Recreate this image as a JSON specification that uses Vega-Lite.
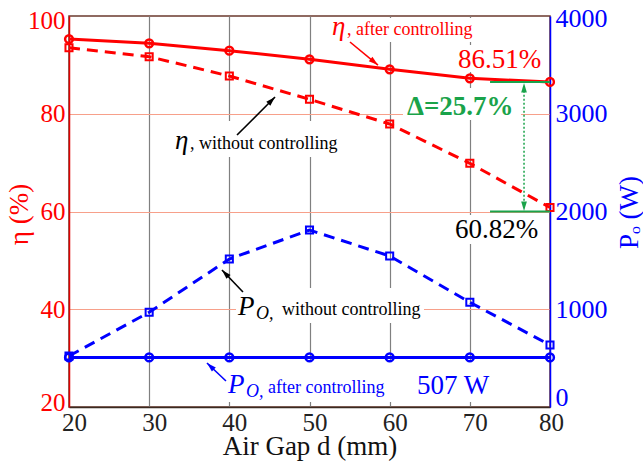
{
  "$schema": "https://vega.github.io/schema/vega-lite/v6.json",
  "width": 481,
  "height": 391,
  "autosize": {"type": "none"},
  "padding": {"left": 69, "top": 16, "right": 93, "bottom": 55},
  "background": "white",
  "config": {
    "view": {"stroke": "#6b3a2e", "strokeWidth": 1.5},
    "font": "'Liberation Serif', 'Times New Roman', serif"
  },
  "datasets": {
    "eta": [
      {"d": 20, "eta": 95.29, "series": "after"},
      {"d": 30, "eta": 94.41, "series": "after"},
      {"d": 40, "eta": 92.9, "series": "after"},
      {"d": 50, "eta": 91.14, "series": "after"},
      {"d": 60, "eta": 89.09, "series": "after"},
      {"d": 70, "eta": 87.25, "series": "after"},
      {"d": 80, "eta": 86.51, "series": "after"},
      {"d": 20, "eta": 93.52, "series": "without"},
      {"d": 30, "eta": 91.68, "series": "without"},
      {"d": 40, "eta": 87.72, "series": "without"},
      {"d": 50, "eta": 82.95, "series": "without"},
      {"d": 60, "eta": 77.9, "series": "without"},
      {"d": 70, "eta": 69.86, "series": "without"},
      {"d": 80, "eta": 60.82, "series": "without"}
    ],
    "po": [
      {"d": 20, "po": 507, "series": "after"},
      {"d": 30, "po": 507, "series": "after"},
      {"d": 40, "po": 507, "series": "after"},
      {"d": 50, "po": 507, "series": "after"},
      {"d": 60, "po": 507, "series": "after"},
      {"d": 70, "po": 507, "series": "after"},
      {"d": 80, "po": 507, "series": "after"},
      {"d": 20, "po": 522, "series": "without"},
      {"d": 30, "po": 969, "series": "without"},
      {"d": 40, "po": 1514, "series": "without"},
      {"d": 50, "po": 1810, "series": "without"},
      {"d": 60, "po": 1545, "series": "without"},
      {"d": 70, "po": 1071, "series": "without"},
      {"d": 80, "po": 634, "series": "without"}
    ],
    "boxes": [
      {"d": 52.56, "d2": 71.02, "eta": 99.59, "eta2": 94.68},
      {"d": 68.15, "d2": 79.5, "eta": 94.07, "eta2": 88.54},
      {"d": 61.66, "d2": 76.38, "eta": 85.27, "eta2": 78.72},
      {"d": 67.78, "d2": 79.5, "eta": 59.28, "eta2": 53.35},
      {"d": 32.6, "d2": 54.43, "eta": 78.52, "eta2": 71.15},
      {"d": 40.83, "d2": 64.28, "eta": 44.35, "eta2": 37.19},
      {"d": 39.08, "d2": 73.14, "eta": 29.21, "eta2": 21.02}
    ],
    "arrows": [
      {"d": 55.05, "eta": 94.68, "d2": 58.54, "eta2": 89.97, "kind": "eta", "dir": 129.4},
      {"d": 40.96, "eta": 75.65, "d2": 45.7, "eta2": 83.43, "kind": "note", "dir": 45},
      {"d": 41.7, "eta": 43.53, "d2": 39.08, "eta2": 48.03, "kind": "note", "dir": 316.3},
      {"d": 39.58, "eta": 25.32, "d2": 37.21, "eta2": 29.0, "kind": "po", "dir": 313.5}
    ],
    "gap": [
      {"d": 72.52, "d2": 80, "eta": 86.51},
      {"d": 72.52, "d2": 80, "eta": 60.0}
    ],
    "gapline": [
      {"d": 76.76, "eta": 85.5, "eta2": 61.0}
    ],
    "gapheads": [
      {"d": 76.76, "eta": 86.3, "dir": 0},
      {"d": 76.76, "eta": 60.1, "dir": 180}
    ],
    "notes": [
      {"role": "sym", "text": "η", "kind": "eta", "d": 52.81, "eta": 96.11},
      {"role": "label", "text": ", after controlling", "kind": "eta", "d": 54.68, "eta": 96.11},
      {"role": "sym", "text": "η", "kind": "note", "d": 33.22, "eta": 72.79},
      {"role": "label", "text": ", without controlling", "kind": "note", "d": 35.09, "eta": 72.79},
      {"role": "sym", "text": "P", "kind": "note", "d": 41.08, "eta": 38.82},
      {"role": "sub", "text": "O,", "kind": "note", "d": 43.33, "eta": 38.0},
      {"role": "label", "text": "without controlling", "kind": "note", "d": 46.57, "eta": 38.82},
      {"role": "sym", "text": "P", "kind": "po", "d": 39.83, "eta": 22.86},
      {"role": "sub", "text": "O,", "kind": "po", "d": 42.08, "eta": 22.05},
      {"role": "label", "text": "after controlling", "kind": "po", "d": 44.82, "eta": 22.86},
      {"role": "value", "text": "86.51%", "kind": "eta", "d": 68.52, "eta": 89.36},
      {"role": "value", "text": "60.82%", "kind": "note", "d": 68.15, "eta": 54.58},
      {"role": "value", "text": "507 W", "kind": "po", "d": 63.41, "eta": 22.66},
      {"role": "delta", "text": "Δ=25.7%", "kind": "delta", "d": 62.16, "eta": 79.74}
    ]
  },
  "encoding": {
    "x": {
      "field": "d",
      "type": "quantitative",
      "scale": {"domain": [20, 80], "nice": false, "zero": false},
      "axis": {
        "values": [20, 30, 40, 50, 60, 70, 80],
        "title": "Air Gap d (mm)",
        "titleFont": "'Liberation Serif', 'Times New Roman', serif",
        "titleFontSize": 27,
        "titleFontWeight": "normal",
        "titleColor": "#111111",
        "titleY": 47,
        "titleBaseline": "alphabetic",
        "labelFont": "'Liberation Serif', 'Times New Roman', serif",
        "labelFontSize": 25,
        "labelColor": "#222222",
        "labelPadding": 3,
        "labelBaseline": "top",
        "labelFlush": false,
        "labelOverlap": false,
        "labelOffset": {"condition": {"test": "datum.value === 80", "value": 1}, "value": 5},
        "ticks": false,
        "grid": true,
        "gridColor": {"condition": {"test": "datum.value === 20 || datum.value === 80", "value": "rgba(0,0,0,0)"}, "value": "#808080"},
        "gridWidth": 1.2,
        "domainColor": "#3a2a20",
        "domainWidth": 1.5
      }
    }
  },
  "layer": [
    {
      "encoding": {
        "y": {
          "field": "eta",
          "type": "quantitative",
          "scale": {"domain": [20, 100], "nice": false, "zero": false},
          "axis": {
            "orient": "left",
            "values": [20, 40, 60, 80, 100],
            "title": "η (%)",
            "titleFont": "'Liberation Serif', 'Times New Roman', serif",
            "titleFontSize": 27,
            "titleFontWeight": "normal",
            "titleColor": "#ff0000",
            "titleX": -42,
            "titleY": 198,
            "titleAngle": -90,
            "titleAlign": "center",
            "titleBaseline": "alphabetic",
            "labelFont": "'Liberation Serif', 'Times New Roman', serif",
            "labelFontSize": 25,
            "labelColor": "#ff0000",
            "labelPadding": 4,
            "labelFlush": false,
            "labelOverlap": false,
            "labelOffset": {"condition": [{"test": "datum.value === 20", "value": -5}, {"test": "datum.value === 100", "value": 4}], "value": 0},
            "ticks": false,
            "grid": true,
            "gridColor": {"condition": {"test": "datum.value === 20 || datum.value === 100", "value": "rgba(0,0,0,0)"}, "value": "#f7a08a"},
            "gridWidth": 1,
            "domainColor": "#e00000",
            "domainWidth": 1.5
          }
        }
      },
      "layer": [
        {
          "data": {"name": "boxes"},
          "mark": {"type": "rect", "color": "white"},
          "encoding": {"x2": {"field": "d2"}, "y2": {"field": "eta2"}}
        },
        {
          "data": {"name": "eta"},
          "transform": [{"filter": "datum.series === 'after'"}],
          "mark": {"type": "line", "color": "#ff0000", "strokeWidth": 3}
        },
        {
          "data": {"name": "eta"},
          "transform": [{"filter": "datum.series === 'without'"}],
          "mark": {"type": "line", "color": "#ff0000", "strokeWidth": 3, "strokeDash": [11, 7]}
        },
        {
          "data": {"name": "eta"},
          "transform": [{"filter": "datum.series === 'after'"}],
          "mark": {"type": "point", "shape": "circle", "filled": false, "size": 60, "strokeWidth": 2.5, "color": "#ff0000", "opacity": 1}
        },
        {
          "data": {"name": "eta"},
          "transform": [{"filter": "datum.series === 'without'"}],
          "mark": {"type": "point", "shape": "square", "filled": false, "size": 50, "strokeWidth": 2, "color": "#ff0000", "opacity": 1}
        },
        {
          "data": {"name": "gap"},
          "mark": {"type": "rule", "color": "#1aa34a", "strokeWidth": 2},
          "encoding": {"x2": {"field": "d2"}}
        },
        {
          "data": {"name": "gapline"},
          "mark": {"type": "rule", "color": "#1aa34a", "strokeWidth": 1.5, "strokeDash": [2, 2]},
          "encoding": {"y2": {"field": "eta2"}}
        },
        {
          "data": {"name": "gapheads"},
          "mark": {"type": "point", "shape": "M0,0L-0.6,2L0.6,2Z", "filled": true, "size": 90, "color": "#1aa34a", "opacity": 1, "strokeWidth": 0},
          "encoding": {"angle": {"field": "dir", "type": "quantitative", "scale": null}}
        },
        {
          "data": {"name": "arrows"},
          "mark": {"type": "rule", "strokeWidth": 1.6},
          "encoding": {
            "x2": {"field": "d2"},
            "y2": {"field": "eta2"},
            "color": {"field": "kind", "type": "nominal", "scale": {"domain": ["eta", "note", "po", "delta"], "range": ["#ff0000", "#000000", "#0000ff", "#1aa34a"]}, "legend": null}
          }
        },
        {
          "data": {"name": "arrows"},
          "mark": {"type": "point", "shape": "M0,0L-0.6,2L0.6,2Z", "filled": true, "size": 90, "opacity": 1, "strokeWidth": 0},
          "encoding": {
            "x": {"field": "d2", "type": "quantitative"},
            "y": {"field": "eta2", "type": "quantitative"},
            "angle": {"field": "dir", "type": "quantitative", "scale": null},
            "color": {"field": "kind", "type": "nominal", "legend": null}
          }
        },
        {
          "data": {"name": "notes"},
          "transform": [{"filter": "datum.role === 'sym'"}],
          "mark": {"type": "text", "align": "left", "baseline": "alphabetic", "font": "Liberation Serif", "fontSize": 27, "fontStyle": "italic"},
          "encoding": {"text": {"field": "text"}, "color": {"field": "kind", "type": "nominal", "legend": null}}
        },
        {
          "data": {"name": "notes"},
          "transform": [{"filter": "datum.role === 'sub'"}],
          "mark": {"type": "text", "align": "left", "baseline": "alphabetic", "font": "Liberation Serif", "fontSize": 18, "fontStyle": "italic"},
          "encoding": {"text": {"field": "text"}, "color": {"field": "kind", "type": "nominal", "legend": null}}
        },
        {
          "data": {"name": "notes"},
          "transform": [{"filter": "datum.role === 'label'"}],
          "mark": {"type": "text", "align": "left", "baseline": "alphabetic", "font": "Liberation Serif", "fontSize": 18},
          "encoding": {"text": {"field": "text"}, "color": {"field": "kind", "type": "nominal", "legend": null}}
        },
        {
          "data": {"name": "notes"},
          "transform": [{"filter": "datum.role === 'value'"}],
          "mark": {"type": "text", "align": "left", "baseline": "alphabetic", "font": "Liberation Serif", "fontSize": 27},
          "encoding": {"text": {"field": "text"}, "color": {"field": "kind", "type": "nominal", "legend": null}}
        },
        {
          "data": {"name": "notes"},
          "transform": [{"filter": "datum.role === 'delta'"}],
          "mark": {"type": "text", "align": "left", "baseline": "alphabetic", "font": "Liberation Serif", "fontSize": 27, "fontWeight": "bold"},
          "encoding": {"text": {"field": "text"}, "color": {"field": "kind", "type": "nominal", "legend": null}}
        }
      ]
    },
    {
      "encoding": {
        "y": {
          "field": "po",
          "type": "quantitative",
          "scale": {"domain": [0, 4000], "nice": false},
          "axis": {
            "orient": "right",
            "values": [0, 1000, 2000, 3000, 4000],
            "format": "d",
            "title": "Pₒ (W)",
            "titleFont": "'Liberation Serif', 'Times New Roman', serif",
            "titleFontSize": 27,
            "titleFontWeight": "normal",
            "titleColor": "#0000ff",
            "titleX": 87,
            "titleY": 196,
            "titleAngle": -90,
            "titleAlign": "center",
            "titleBaseline": "alphabetic",
            "labelFont": "'Liberation Serif', 'Times New Roman', serif",
            "labelFontSize": 26,
            "labelColor": "#0000ff",
            "labelPadding": 5,
            "labelFlush": false,
            "labelOverlap": false,
            "labelOffset": {"condition": [{"test": "datum.value === 0", "value": -10}, {"test": "datum.value === 4000", "value": 2}], "value": 0},
            "ticks": false,
            "grid": false,
            "domainColor": "#0000ff",
            "domainWidth": 1.5
          }
        }
      },
      "layer": [
        {
          "data": {"name": "po"},
          "transform": [{"filter": "datum.series === 'after'"}],
          "mark": {"type": "line", "color": "#0000ff", "strokeWidth": 3}
        },
        {
          "data": {"name": "po"},
          "transform": [{"filter": "datum.series === 'without'"}],
          "mark": {"type": "line", "color": "#0000ff", "strokeWidth": 3, "strokeDash": [11, 7]}
        },
        {
          "data": {"name": "po"},
          "transform": [{"filter": "datum.series === 'after'"}],
          "mark": {"type": "point", "shape": "circle", "filled": false, "size": 60, "strokeWidth": 2.5, "color": "#0000ff", "opacity": 1}
        },
        {
          "data": {"name": "po"},
          "transform": [{"filter": "datum.series === 'without'"}],
          "mark": {"type": "point", "shape": "square", "filled": false, "size": 50, "strokeWidth": 2, "color": "#0000ff", "opacity": 1}
        }
      ]
    }
  ],
  "resolve": {"scale": {"y": "independent"}}
}
